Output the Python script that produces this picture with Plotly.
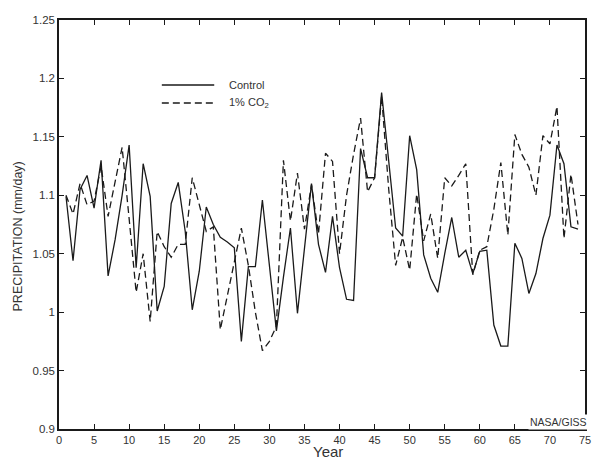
import plotly.graph_objects as go

years = list(range(1, 75))

control = [
    1.099, 1.044, 1.105, 1.117, 1.089, 1.130, 1.031, 1.062, 1.100, 1.143,
    1.038, 1.127, 1.099, 1.001, 1.022, 1.093, 1.111, 1.069, 1.002, 1.035,
    1.090, 1.075, 1.064, 1.060, 1.055, 0.975, 1.039, 1.039, 1.096, 1.040,
    0.984, 1.030, 1.072, 0.999, 1.055, 1.110, 1.058, 1.034, 1.082, 1.038,
    1.011, 1.010, 1.140, 1.115, 1.115, 1.188, 1.130, 1.072, 1.065, 1.151,
    1.122, 1.049, 1.029, 1.017, 1.050, 1.081, 1.047, 1.053, 1.033, 1.052,
    1.053, 0.989, 0.971, 0.971, 1.059, 1.046, 1.016, 1.033, 1.063, 1.083,
    1.143, 1.127, 1.073, 1.071,
]

co2 = [
    1.100, 1.084, 1.110, 1.092, 1.095, 1.125, 1.082, 1.110, 1.141, 1.080,
    1.017, 1.050, 0.992, 1.069, 1.056, 1.047, 1.058, 1.058, 1.115, 1.092,
    1.069, 1.073, 0.985, 1.014, 1.043, 1.072, 1.040, 1.000, 0.967, 0.975,
    0.988, 1.130, 1.078, 1.119, 1.071, 1.109, 1.067, 1.136, 1.129, 1.050,
    1.100, 1.135, 1.166, 1.103, 1.115, 1.185, 1.106, 1.040, 1.064, 1.036,
    1.101, 1.061, 1.084, 1.046, 1.115, 1.108, 1.117, 1.127, 1.032, 1.053,
    1.056, 1.088, 1.128, 1.066, 1.152, 1.135, 1.124, 1.100, 1.151, 1.144,
    1.176, 1.063, 1.118, 1.075,
]

x_ticks = list(range(0, 80, 5))
y_ticks = [0.9, 0.95, 1.0, 1.05, 1.1, 1.15, 1.2, 1.25]
y_tick_text = ["0.9", "0.95", "1", "1.05", "1.1", "1.15", "1.2", "1.25"]

LINE = "#1a1a1a"
TXT = "#333333"
FONT = "Liberation Sans, Arial, sans-serif"

fig = go.Figure()
fig.add_trace(go.Scatter(x=years, y=control, mode="lines", name="Control",
                         line=dict(color=LINE, width=1.3), showlegend=False))
fig.add_trace(go.Scatter(x=years, y=co2, mode="lines", name="1% CO2",
                         line=dict(color=LINE, width=1.3, dash="7px,4px"),
                         showlegend=False))

W, H = 599, 461
L, R, T, B = 59, 8, 20, 32
pw, ph = W - L - R, H - T - B

def px2x(px):
    return (px - L) / pw

def py2y(py):
    return (H - B - py) / ph

shapes = [
    dict(type="line", xref="paper", yref="paper", x0=px2x(163), x1=px2x(216),
         y0=py2y(85), y1=py2y(85), line=dict(color=LINE, width=1.3)),
    dict(type="line", xref="paper", yref="paper", x0=px2x(163), x1=px2x(216),
         y0=py2y(103), y1=py2y(103), line=dict(color=LINE, width=1.3, dash="7px,4px")),
]

annotations = [
    dict(text="Control", xref="paper", yref="paper", x=px2x(229), y=py2y(85),
         xanchor="left", yanchor="middle", showarrow=False,
         font=dict(family=FONT, size=11, color=TXT)),
    dict(text="1% CO<sub>2</sub>", xref="paper", yref="paper", x=px2x(229), y=py2y(103),
         xanchor="left", yanchor="middle", showarrow=False,
         font=dict(family=FONT, size=11, color=TXT)),
    dict(text="NASA/GISS", xref="paper", yref="paper", x=1.008, y=py2y(422),
         xanchor="right", yanchor="middle", showarrow=False, bgcolor="white",
         borderpad=1, font=dict(family=FONT, size=10.5, color=TXT)),
    dict(text="PRECIPITATION (mm/day)", xref="paper", yref="paper", x=px2x(18),
         y=py2y(236), xanchor="center", yanchor="middle", textangle=-90,
         showarrow=False, font=dict(family=FONT, size=12.5, color=TXT)),
    dict(text="Year", xref="paper", yref="paper", x=px2x(331), y=py2y(461),
         xanchor="center", yanchor="bottom", showarrow=False, borderpad=0,
         font=dict(family=FONT, size=15, color=TXT)),
]

fig.update_layout(
    width=W, height=H,
    margin=dict(l=L, r=R, t=T, b=B, pad=0),
    paper_bgcolor="white", plot_bgcolor="white",
    font=dict(family=FONT, size=11, color=TXT),
    shapes=shapes, annotations=annotations,
    xaxis=dict(range=[0, 75], tickvals=x_ticks, ticks="inside", ticklen=5,
               tickcolor=LINE, showline=True, linecolor=LINE, linewidth=1.5,
               mirror="ticks", showgrid=False, zeroline=False,
               tickfont=dict(size=11, color=TXT)),
    yaxis=dict(range=[0.9, 1.25], tickvals=y_ticks, ticktext=y_tick_text,
               ticks="inside", ticklen=5, tickcolor=LINE, showline=True,
               linecolor=LINE, linewidth=1.5, mirror="ticks", showgrid=False,
               zeroline=False, tickfont=dict(size=11.5, color=TXT)),
)

fig.write_html("out.html")
